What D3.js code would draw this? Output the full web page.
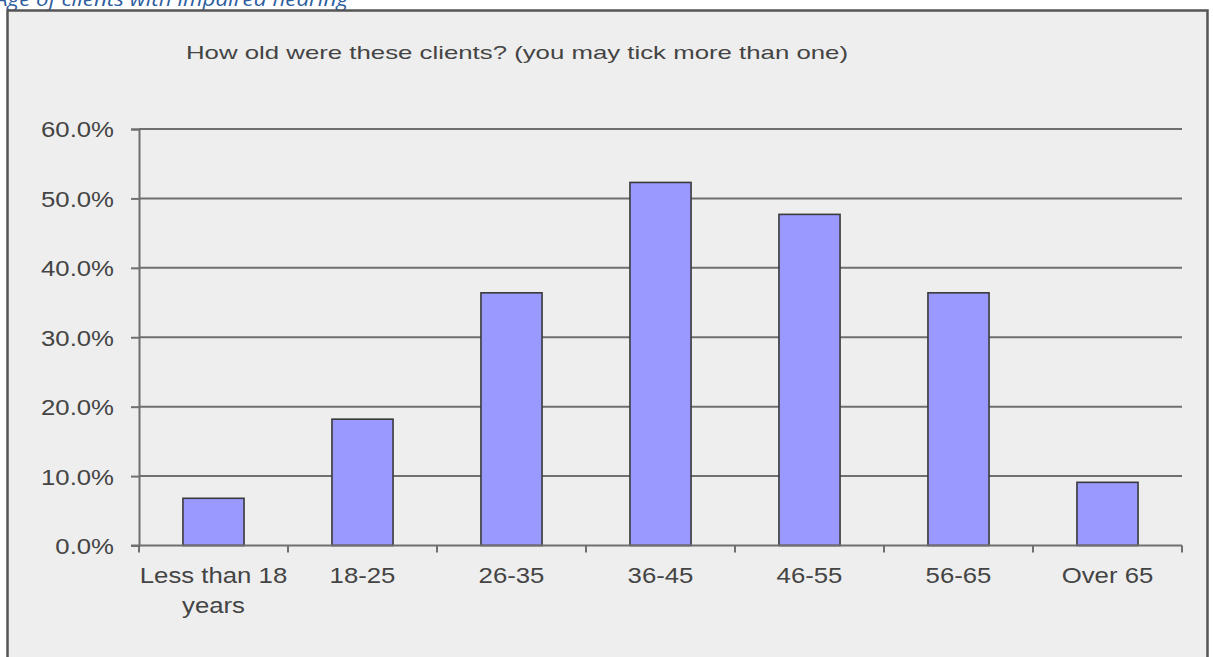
<!DOCTYPE html>
<html>
<head>
<meta charset="utf-8">
<script src="https://cdn.jsdelivr.net/npm/d3@7"></script>
<style>
  html, body { margin: 0; padding: 0; background: #ffffff; }
  svg { display: block; }
  text { font-family: "Liberation Sans", Arial, sans-serif; fill: #444; }
</style>
</head>
<body>
<svg id="chart" width="1213" height="657"></svg>
<script>
// Age groups and share of respondents in each
const categories = ["Less than 18 years", "18-25", "26-35", "36-45", "46-55", "56-65", "Over 65"];
const categoryLines = [["Less than 18", "years"], ["18-25"], ["26-35"], ["36-45"], ["46-55"], ["56-65"], ["Over 65"]];
const values = [0.068, 0.182, 0.364, 0.523, 0.477, 0.364, 0.091];
const yTicks = [0, 0.1, 0.2, 0.3, 0.4, 0.5, 0.6];

const caption = "Age of clients with impaired hearing";
const title = "How old were these clients? (you may tick more than one)";

const svg = d3.select("#chart");
const plot = { left: 139, right: 1182, top: 129, bottom: 545.5 };
const stretch = 1.17; // labels are rendered horizontally widened

// caption above the framed chart
svg.append("text")
  .attr("x", -5).attr("y", 6)
  .style("font-family", "'Open Sans', sans-serif")
  .style("font-style", "italic")
  .style("font-size", "20px")
  .style("fill", "#2e5e9e")
  .text(caption)
  .attr("textLength", 353).attr("lengthAdjust", "spacingAndGlyphs");

// chart frame
svg.append("rect")
  .attr("x", 7.5).attr("y", 10.5).attr("width", 1200).attr("height", 700)
  .attr("fill", "#eeeeee").attr("stroke", "#555").attr("stroke-width", 2.5);

// title
svg.append("text")
  .attr("x", 186).attr("y", 59)
  .style("font-size", "19px")
  .text(title)
  .attr("textLength", 662).attr("lengthAdjust", "spacingAndGlyphs");

const x = d3.scaleBand().domain(categories).range([plot.left, plot.right]).padding(0);
const y = d3.scaleLinear().domain([0, 0.6]).range([plot.bottom, plot.top]);

const stroke = "#6f6f6f";

// horizontal gridlines
svg.append("g").selectAll("line")
  .data(yTicks.filter(d => d > 0))
  .join("line")
  .attr("x1", plot.left).attr("x2", plot.right)
  .attr("y1", d => y(d)).attr("y2", d => y(d))
  .attr("stroke", stroke).attr("stroke-width", 2);

// y axis
const yAxis = svg.append("g")
  .attr("transform", `translate(${plot.left},0)`)
  .call(d3.axisLeft(y).tickValues(yTicks).tickFormat(d3.format(".1%")).tickSize(8).tickPadding(17));
yAxis.select(".domain").attr("stroke", stroke).attr("stroke-width", 2);
yAxis.selectAll(".tick line").attr("stroke", stroke).attr("stroke-width", 2);
yAxis.selectAll(".tick text")
  .style("font-size", "22px").style("font-family", "'Liberation Sans', Arial, sans-serif")
  .attr("fill", "#444").attr("dy", "0.36em")
  .each(function () {
    const w = this.getComputedTextLength();
    d3.select(this).attr("textLength", w * stretch).attr("lengthAdjust", "spacingAndGlyphs");
  });

// bars
const barFrac = 0.41;
svg.append("g").selectAll("rect")
  .data(values)
  .join("rect")
  .attr("x", (d, i) => x(categories[i]) + x.bandwidth() * (1 - barFrac) / 2)
  .attr("width", x.bandwidth() * barFrac)
  .attr("y", d => y(d))
  .attr("height", d => y(0) - y(d))
  .attr("fill", "#9999ff")
  .attr("stroke", "#3a3a3a").attr("stroke-width", 1.6);

// x axis baseline and category boundary ticks
svg.append("line")
  .attr("x1", plot.left - 8).attr("x2", plot.right)
  .attr("y1", y(0)).attr("y2", y(0))
  .attr("stroke", stroke).attr("stroke-width", 2);
const bounds = categories.map(c => x(c)).concat([plot.right]);
svg.append("g").selectAll("line")
  .data(bounds)
  .join("line")
  .attr("x1", d => d).attr("x2", d => d)
  .attr("y1", y(0)).attr("y2", y(0) + 7)
  .attr("stroke", stroke).attr("stroke-width", 2);

// category labels
const lab = svg.append("g").selectAll("text")
  .data(categoryLines)
  .join("text")
  .attr("text-anchor", "middle")
  .style("font-size", "22px");
lab.each(function (lines, i) {
  const cx = x(categories[i]) + x.bandwidth() / 2;
  lines.forEach((ln, k) => {
    d3.select(this).append("tspan")
      .attr("x", cx).attr("y", 583 + k * 30).text(ln);
  });
});
lab.selectAll("tspan").each(function () {
  const w = this.getComputedTextLength();
  d3.select(this).attr("textLength", w * stretch).attr("lengthAdjust", "spacingAndGlyphs");
});
</script>
</body>
</html>
